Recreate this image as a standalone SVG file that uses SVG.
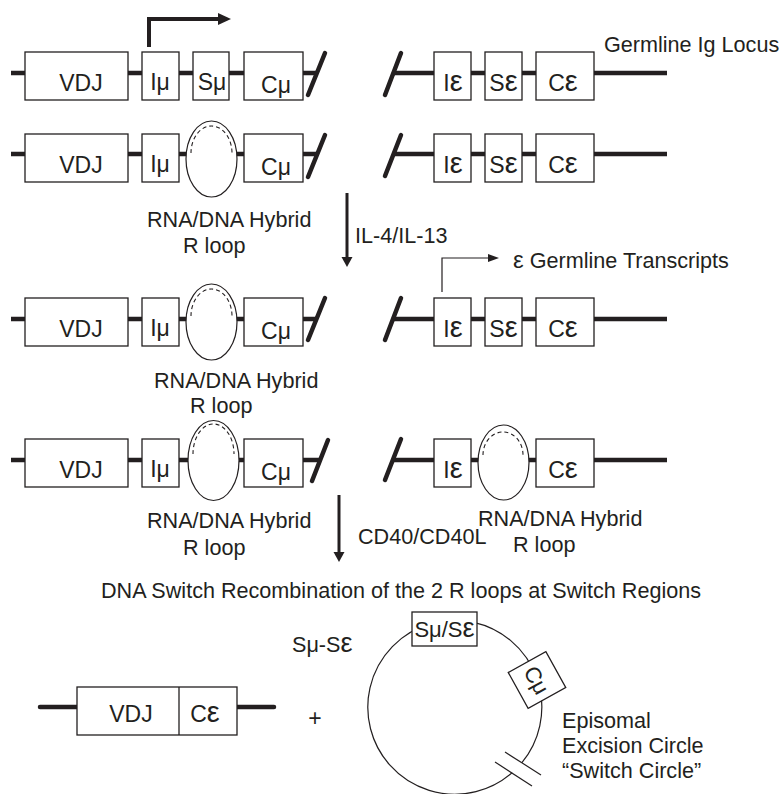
<svg xmlns="http://www.w3.org/2000/svg" width="782" height="794" viewBox="0 0 782 794">
<style>
text{font-family:"Liberation Sans",Arial,sans-serif;fill:#231f20}
.lbl{font-size:21.6px}
.bx{font-size:23px;text-anchor:middle}
.ep{font-size:29px}
.box{fill:#fff;stroke:#231f20;stroke-width:1.3}
.dna{stroke:#231f20;stroke-width:4.5;fill:none}
.brk{stroke:#231f20;stroke-width:4.5;stroke-linecap:round;fill:none}
.loop{fill:#fff;stroke:#231f20;stroke-width:1.2}
.dash{fill:none;stroke:#231f20;stroke-width:1.1;stroke-dasharray:4,3}
.thin{stroke:#231f20;stroke-width:1.2;fill:none}
</style>

<!-- Row 1 -->
<g id="row1-left">
<line class="dna" x1="11" y1="73" x2="316" y2="73"/>
<rect class="box" x="25" y="52" width="103" height="48"/><text class="bx" x="81" y="91">VDJ</text>
<rect class="box" x="142" y="52" width="37" height="48"/><text class="bx" x="160" y="90">Iμ</text>
<rect class="box" x="193" y="52" width="36" height="48"/><text class="bx" x="212" y="90">Sμ</text>
<rect class="box" x="244" y="52" width="59" height="48"/><text class="bx" x="276" y="93">Cμ</text>
<line class="brk" x1="308" y1="95" x2="325" y2="53"/>
</g>
<g id="row1-right">
<line class="dna" x1="393" y1="73" x2="667" y2="73"/>
<line class="brk" x1="385" y1="95" x2="401" y2="53"/>
<rect class="box" x="434" y="52" width="37" height="48"/><text class="bx" x="453" y="91">I<tspan class="ep">ε</tspan></text>
<rect class="box" x="485" y="52" width="37" height="48"/><text class="bx" x="503.5" y="91">S<tspan class="ep">ε</tspan></text>
<rect class="box" x="536" y="52" width="58" height="48"/><text class="bx" x="563" y="91">C<tspan class="ep">ε</tspan></text>
</g>
<text id="label-germline" class="lbl" x="604" y="52">Germline Ig Locus</text>

<!-- Row 2 -->
<g id="row2-left">
<line class="dna" x1="11" y1="154" x2="316" y2="154"/>
<rect class="box" x="25" y="134" width="103" height="48"/><text class="bx" x="81" y="173">VDJ</text>
<rect class="box" x="142" y="134" width="37" height="48"/><text class="bx" x="160" y="172">Iμ</text>
<ellipse class="loop" cx="211.5" cy="159" rx="25.5" ry="38"/>
<path class="dash" d="M191,153 A20.5,27 0 0 1 232,153"/>
<rect class="box" x="244" y="134" width="59" height="48"/><text class="bx" x="276" y="175">Cμ</text>
<line class="brk" x1="308" y1="177" x2="325" y2="135"/>
</g>
<g id="row2-right">
<line class="dna" x1="393" y1="154" x2="667" y2="154"/>
<line class="brk" x1="385" y1="176" x2="401" y2="135"/>
<rect class="box" x="434" y="134" width="37" height="48"/><text class="bx" x="453" y="173">I<tspan class="ep">ε</tspan></text>
<rect class="box" x="485" y="134" width="37" height="48"/><text class="bx" x="503.5" y="173">S<tspan class="ep">ε</tspan></text>
<rect class="box" x="536" y="134" width="58" height="48"/><text class="bx" x="563" y="173">C<tspan class="ep">ε</tspan></text>
</g>
<text id="label-rloop1" class="lbl"><tspan x="147" y="227">RNA/DNA Hybrid</tspan><tspan x="183" y="253">R loop</tspan></text>

<!-- Row 3 -->
<g id="row3-left">
<line class="dna" x1="11" y1="319" x2="316" y2="319"/>
<rect class="box" x="25" y="298" width="103" height="48"/><text class="bx" x="81" y="337">VDJ</text>
<rect class="box" x="142" y="298" width="37" height="48"/><text class="bx" x="160" y="336">Iμ</text>
<ellipse class="loop" cx="211.5" cy="322" rx="25.5" ry="38"/>
<path class="dash" d="M191,316 A20.5,27 0 0 1 232,316"/>
<rect class="box" x="244" y="298" width="59" height="48"/><text class="bx" x="276" y="339">Cμ</text>
<line class="brk" x1="308" y1="340" x2="325" y2="298"/>
</g>
<g id="row3-right">
<line class="dna" x1="393" y1="319" x2="667" y2="319"/>
<line class="brk" x1="385" y1="340" x2="401" y2="298"/>
<rect class="box" x="434" y="298" width="37" height="48"/><text class="bx" x="453" y="337">I<tspan class="ep">ε</tspan></text>
<rect class="box" x="485" y="298" width="37" height="48"/><text class="bx" x="503.5" y="337">S<tspan class="ep">ε</tspan></text>
<rect class="box" x="536" y="298" width="58" height="48"/><text class="bx" x="563" y="337">C<tspan class="ep">ε</tspan></text>
</g>
<text id="label-transcripts" class="lbl" x="513" y="268"><tspan style="font-size:24px">ε</tspan> Germline Transcripts</text>
<text id="label-rloop2" class="lbl"><tspan x="154" y="388">RNA/DNA Hybrid</tspan><tspan x="190" y="413">R loop</tspan></text>

<!-- Row 4 -->
<g id="row4-left">
<line class="dna" x1="11" y1="460" x2="320" y2="460"/>
<rect class="box" x="25" y="439" width="103" height="48"/><text class="bx" x="81" y="478">VDJ</text>
<rect class="box" x="142" y="439" width="37" height="48"/><text class="bx" x="160" y="477">Iμ</text>
<ellipse class="loop" cx="213.5" cy="460.5" rx="25.5" ry="40"/>
<path class="dash" d="M193,454 A20.5,30 0 0 1 234,454"/>
<rect class="box" x="244" y="439" width="59" height="48"/><text class="bx" x="276" y="480">Cμ</text>
<line class="brk" x1="312" y1="481" x2="328" y2="440"/>
</g>
<g id="row4-right">
<line class="dna" x1="393" y1="460" x2="667" y2="460"/>
<line class="brk" x1="385" y1="480" x2="401" y2="439"/>
<rect class="box" x="434" y="439" width="37" height="48"/><text class="bx" x="453" y="478">I<tspan class="ep">ε</tspan></text>
<ellipse class="loop" cx="503.5" cy="462.5" rx="25.5" ry="37.5"/>
<path class="dash" d="M483,455 A20,23 0 0 1 523,455"/>
<rect class="box" x="536" y="439" width="58" height="48"/><text class="bx" x="563" y="478">C<tspan class="ep">ε</tspan></text>
</g>
<text id="label-rloop3" class="lbl"><tspan x="147" y="528">RNA/DNA Hybrid</tspan><tspan x="183" y="555">R loop</tspan></text>
<text id="label-rloop4" class="lbl"><tspan x="478" y="526">RNA/DNA Hybrid</tspan><tspan x="513" y="552">R loop</tspan></text>

<!-- Connectors -->
<g id="connectors">
<path d="M149,47 V19 H219" stroke="#231f20" stroke-width="4" fill="none"/>
<polygon points="218,13 231,19 218,25" fill="#231f20"/>
<path d="M442,292 V258 H490" class="thin"/>
<polygon points="488,254 499,258 488,262" fill="#231f20"/>
<line x1="347" y1="193" x2="347" y2="258" stroke="#231f20" stroke-width="3"/>
<polygon points="341.5,257 352.5,257 347,267" fill="#231f20"/>
<line x1="339" y1="495" x2="339" y2="553" stroke="#231f20" stroke-width="3"/>
<polygon points="333.5,552 344.5,552 339,562" fill="#231f20"/>
</g>
<text id="label-il4" class="lbl" x="355" y="243">IL-4/IL-13</text>
<text id="label-cd40" class="lbl" x="358" y="544">CD40/CD40L</text>

<text id="label-recomb" class="lbl" x="401" y="598" text-anchor="middle">DNA Switch Recombination of the 2 R loops at Switch Regions</text>

<!-- Bottom -->
<g id="product">
<line class="dna" x1="40" y1="707" x2="77" y2="707" stroke-linecap="round"/>
<line class="dna" x1="237" y1="707" x2="274" y2="707" stroke-linecap="round"/>
<rect class="box" x="77" y="687" width="160" height="48"/>
<line x1="179" y1="687" x2="179" y2="735" stroke="#231f20" stroke-width="1.3"/>
<text class="bx" x="131" y="722">VDJ</text>
<text class="bx" x="205" y="722">C<tspan class="ep">ε</tspan></text>
</g>
<text id="plus" class="bx" x="315" y="726">+</text>
<text id="label-smse" class="lbl" x="292" y="652">Sμ-S<tspan style="font-size:27px">ε</tspan></text>
<g id="switch-circle">
<path class="thin" d="M521.9,762.6 A87,87 0 1 0 512.2,772.6"/>
<line class="thin" x1="505" y1="752" x2="541" y2="775"/>
<line class="thin" x1="495" y1="762" x2="532" y2="786"/>
<rect class="box" x="412" y="612" width="65" height="34"/>
<text class="bx" x="444.5" y="637" style="font-size:22px">Sμ/S<tspan style="font-size:27px">ε</tspan></text>
<g transform="translate(537,680) rotate(61)">
<rect class="box" x="-20.5" y="-21.5" width="41" height="43"/>
<text class="bx" x="0" y="8" style="font-size:22px">Cμ</text>
</g>
</g>
<text id="label-episomal" class="lbl"><tspan x="562" y="728">Episomal</tspan><tspan x="562" y="753">Excision Circle</tspan><tspan x="562" y="778">“Switch Circle”</tspan></text>
</svg>
